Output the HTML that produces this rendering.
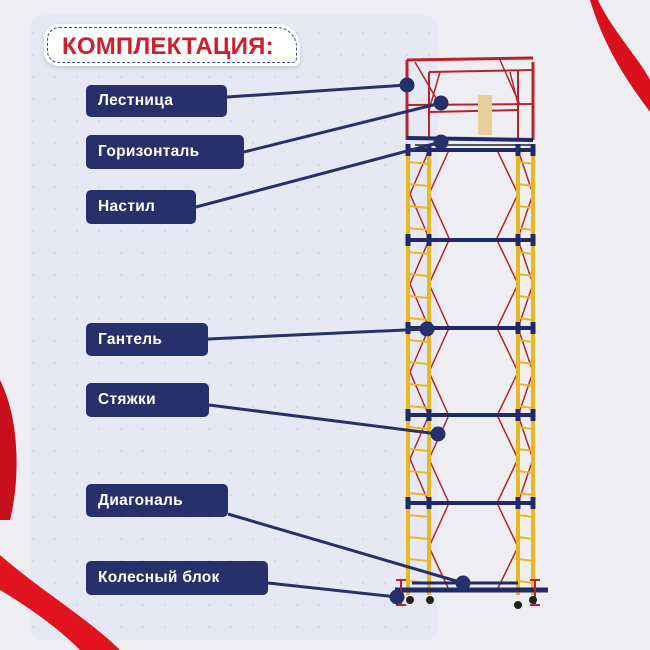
<!DOCTYPE html>
<html><head><meta charset="utf-8"><style>
body{margin:0;width:650px;height:650px;overflow:hidden;background:#eeeef2;font-family:"Liberation Sans",sans-serif}
svg{position:absolute;left:0;top:0}
.lb{position:absolute;background:#27306b;color:#fff;font-weight:bold;font-size:15.5px;border-radius:5px;padding-left:12px;box-sizing:border-box;display:flex;align-items:center;letter-spacing:0.3px}
.title{position:absolute;left:44px;top:24px;width:256px;height:42px;background:#fff;border-radius:14px 22px 6px 14px;box-shadow:0 2px 5px rgba(0,0,0,.15)}
.title div{position:absolute;inset:3px;border:1.5px dashed #3b4590;border-radius:12px 20px 5px 12px}
.title span{position:absolute;left:18px;top:9px;color:#d11e2d;font-weight:900;font-size:24px;letter-spacing:0.2px}
</style></head><body>
<svg width="650" height="650" id="s">
<defs><pattern id="d" width="22" height="22" patternUnits="userSpaceOnUse"><circle cx="11" cy="11" r="1" fill="#cfd3e2"/></pattern></defs>
<rect x="30" y="15" width="407" height="625" rx="12" fill="#e6e9f4"/>
<rect x="30" y="15" width="407" height="625" rx="12" fill="url(#d)"/>
<path d="M598 0 C612 30 640 60 650 80 L650 112 C630 85 605 50 590 0Z" fill="#d9101e"/>
<path d="M0 380 C20 420 20 480 10 520 L0 520Z" fill="#c90f1c"/>
<path d="M0 555 C40 590 90 620 120 650 L80 650 C55 625 25 605 0 590Z" fill="#e0131f"/>
<g id="sc"></g>
<g stroke="#27306b" stroke-width="3" fill="#27306b">
<line x1="227" y1="97" x2="407" y2="85"/><circle cx="407" cy="85" r="6"/>
<line x1="244" y1="152" x2="441" y2="103"/><circle cx="441" cy="103" r="6"/>
<line x1="196" y1="207" x2="441" y2="142"/><circle cx="441" cy="142" r="6"/>
<line x1="208" y1="339" x2="427" y2="329"/><circle cx="427" cy="329" r="6"/>
<line x1="209" y1="405" x2="438" y2="434"/><circle cx="438" cy="434" r="6"/>
<line x1="228" y1="514" x2="463" y2="583"/><circle cx="463" cy="583" r="6"/>
<line x1="268" y1="583" x2="397" y2="597"/><circle cx="397" cy="597" r="6"/>
</g>
</svg>
<div class="title"><div></div><span>КОМПЛЕКТАЦИЯ:</span></div>
<div class="lb" style="left:86px;top:85px;width:141px;height:32px">Лестница</div>
<div class="lb" style="left:86px;top:135px;width:158px;height:34px">Горизонталь</div>
<div class="lb" style="left:86px;top:190px;width:110px;height:34px">Настил</div>
<div class="lb" style="left:86px;top:323px;width:122px;height:33px">Гантель</div>
<div class="lb" style="left:86px;top:383px;width:123px;height:34px">Стяжки</div>
<div class="lb" style="left:86px;top:484px;width:142px;height:33px">Диагональ</div>
<div class="lb" style="left:86px;top:561px;width:182px;height:34px">Колесный блок</div>
<script>
var g=document.getElementById('sc'),h='';
function L(a,b,c,d,col,w){h+='<line x1="'+a+'" y1="'+b+'" x2="'+c+'" y2="'+d+'" stroke="'+col+'" stroke-width="'+w+'"/>';}
var R='#b8232a',Y='#e8b820',B='#1f2a66';
// top red frame
L(407,60,407,140,R,3);L(429,72,429,140,R,2);L(518,70,518,140,R,2);L(533,62,533,140,R,3);
L(407,60,533,58,R,3);L(429,72,533,70,R,2);L(429,112,518,110,R,2);L(407,105,533,104,R,2);
L(415,62,440,105,R,1.5);L(500,60,520,105,R,1.5);L(440,72,429,110,R,1.5);L(510,72,518,104,R,1.5);
h+='<rect x="478" y="95" width="14" height="40" fill="#e6cf9a"/>';
L(407,138,533,140,B,4);L(415,145,533,145,'#555',2);
var hs=[150,240,328,415,503];
for(var i=0;i<hs.length;i++){var y=hs[i],n=y+88;
 if(i<4){L(449,y,429,y+44,R,1.5);L(429,y+44,449,n,R,1.5);L(497,y,518,y+44,R,1.5);L(518,y+44,497,n,R,1.5);
 L(429,y,410,y+44,R,1.5);L(410,y+44,429,n,R,1.5);L(518,y,533,y+44,R,1.5);L(533,y+44,518,n,R,1.5);}
 for(var r=y+12;r<n;r+=22){L(408,r,429,r+2,Y,2);L(518,r,533,r+2,Y,2);}
}
L(449,503,429,547,R,1.5);L(429,547,449,590,R,1.5);L(497,503,518,547,R,1.5);L(518,547,497,590,R,1.5);
[408,429,518,533].forEach(function(x){L(x,145,x,595,Y,4);});
hs.forEach(function(y){L(408,y,533,y,B,4);[408,429,518,533].forEach(function(x){L(x,y-6,x,y+6,B,5);});});
L(395,590,548,590,B,5);L(412,583,518,583,B,3);
[[401,580],[535,580]].forEach(function(p){L(p[0],p[1],p[0],605,R,2);L(p[0]-5,p[1],p[0]+5,p[1],R,2);L(p[0]-5,605,p[0]+5,605,R,2);});
[[410,600],[430,600],[518,605],[533,600]].forEach(function(p){h+='<circle cx="'+p[0]+'" cy="'+p[1]+'" r="4" fill="#222"/>';});
g.innerHTML=h;
</script>
</body></html>
